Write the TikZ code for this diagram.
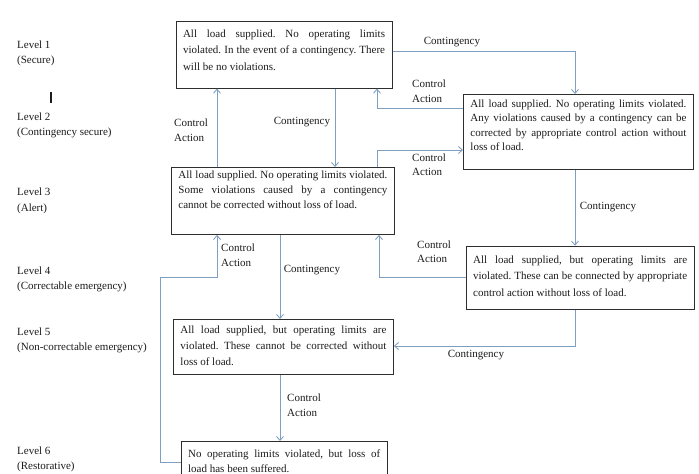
\documentclass[tikz,border=0pt]{standalone}
\usepackage{fontspec}
\setmainfont{Liberation Serif}
\usetikzlibrary{arrows.meta}
\frenchspacing
\definecolor{arrowc}{HTML}{7E9FBF}
\definecolor{boxc}{HTML}{2E2E2E}
\definecolor{txtc}{HTML}{1C1C1C}
\newcommand\bxt[5]{\parbox[c][#4pt][t]{#3pt}{\fontsize{11}{#2}\selectfont\frenchspacing\vspace*{#1pt}#5}}
\tikzset{
  bx/.style={draw=boxc, line width=0.9pt, inner xsep=7pt, inner ysep=0pt, anchor=north west, text=txtc},
  lvl/.style={anchor=west, align=left, inner sep=0pt, text=txtc, font=\fontsize{11}{15.5}\selectfont},
  lab/.style={align=left, inner sep=0pt, text=txtc, font=\fontsize{11}{14.5}\selectfont},
  arr/.style={draw=arrowc, line width=0.85pt, -{Straight Barb[length=4pt,width=7pt]}}
}
\begin{document}
\begin{tikzpicture}[x=1pt,y=-1pt]
\useasboundingbox[fill=white] (0,0) rectangle (699,474);
% level labels
\node[lvl] (l1) at (17,53.5) {Level 1\\(Secure)};
\node[lvl] (l2) at (17,125.5) {Level 2\\(Contingency secure)};
\node[lvl] (l3) at (17,201) {Level 3\\(Alert)};
\node[lvl] (l4) at (17,279.5) {Level 4\\(Correctable emergency)};
\node[lvl] (l5) at (17,340.5) {Level 5\\(Non-correctable emergency)};
\node[lvl] (l6) at (17,459.5) {Level 6\\(Restorative)};
\draw[line width=1.6pt, txtc] (51,92) -- (51,103);
% boxes
\node[bx] (b1) at (175.6,20.7) {\bxt{8.5}{16.5}{202}{67}{All load supplied. No operating limits\linebreak violated. In the event of a contingency. There\linebreak will be no violations.}};
\node[bx] (b2) at (463,94) {\bxt{5.5}{14.3}{216}{75}{All load supplied. No operating limits violated.\linebreak Any violations caused by a contingency can be\linebreak corrected by appropriate control action without\linebreak loss of load.}};
\node[bx] (b3) at (171,167) {\bxt{3}{15}{209}{67}{All load supplied. No operating limits violated.\linebreak Some violations caused by a contingency\linebreak cannot be corrected without loss of load.}};
\node[bx] (b4) at (465.7,245.7) {\bxt{9.5}{16.5}{214}{63.3}{All load supplied, but operating limits are\linebreak violated. These can be connected by appropriate\linebreak control action without loss of load.}};
\node[bx] (b5) at (173,319) {\bxt{6.5}{16}{206}{55}{All load supplied, but operating limits are\linebreak violated. These cannot be corrected without\linebreak loss of load.}};
\node[bx] (b6) at (180.7,441) {\bxt{8}{15.5}{192}{42}{No operating limits violated, but loss of\linebreak load has been suffered.}};
% connectors
\draw[arr] (335,0 |- b1.south) -- (335,0 |- b3.north);
\draw[arr] (217,0 |- b3.north) -- (217,0 |- b1.south);
\draw[arr] (b1.east |- 0,51) -| (575,0 |- b2.north);
\draw[arr] (b2.west |- 0,108) -| (377,0 |- b1.south);
\draw[arr] (377,0 |- b3.north) |- (b2.west |- 0,150);
\draw[arr] (575,0 |- b2.south) -- (575,0 |- b4.north);
\draw[arr] (b4.west |- 0,277) -| (379,0 |- b3.south);
\draw[arr] (280,0 |- b3.south) -- (280,0 |- b5.north);
\draw[arr] (575,0 |- b4.south) |- (b5.east |- 0,346);
\draw[arr] (280,0 |- b5.south) -- (280,0 |- b6.north);
\draw[arr] (b6.west |- 0,462) -| (160,277) -| (217,0 |- b3.south);
% connector labels
\node[lab] (c1) at (452,42) {Contingency};
\node[lab] (c2) at (302,122) {Contingency};
\node[lab] (c3) at (608,207) {Contingency};
\node[lab] (c4) at (312,270) {Contingency};
\node[lab] (c5) at (476,355) {Contingency};
\node[lab, anchor=west] (a1) at (412,91) {Control\\Action};
\node[lab, anchor=west] (a2) at (412,164.5) {Control\\Action};
\node[lab, anchor=west] (a3) at (174,130) {Control\\Action};
\node[lab, anchor=west] (a4) at (417,251.5) {Control\\Action};
\node[lab, anchor=west] (a5) at (221,255) {Control\\Action};
\node[lab, anchor=west] (a6) at (287,405) {Control\\Action};
\end{tikzpicture}
\end{document}
